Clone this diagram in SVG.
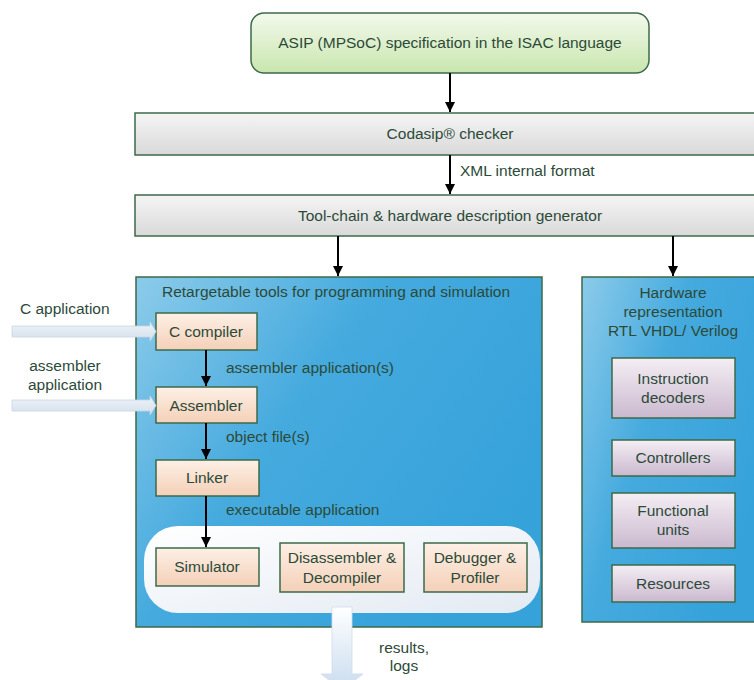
<svg xmlns="http://www.w3.org/2000/svg" width="754" height="680" viewBox="0 0 754 680">
  <defs>
    <linearGradient id="gSpec" x1="0" y1="0" x2="0" y2="1">
      <stop offset="0" stop-color="#f3f9ec"/>
      <stop offset="1" stop-color="#c9e6ae"/>
    </linearGradient>
    <linearGradient id="gBar" x1="0" y1="0" x2="0" y2="1">
      <stop offset="0" stop-color="#f5f5f5"/>
      <stop offset="1" stop-color="#d9d9d9"/>
    </linearGradient>
    <linearGradient id="gBlue" x1="0" y1="0" x2="1" y2="0.6">
      <stop offset="0" stop-color="#8ccbea"/>
      <stop offset="0.45" stop-color="#45aade"/>
      <stop offset="1" stop-color="#35a2da"/>
    </linearGradient>
    <linearGradient id="gTool" x1="0" y1="0" x2="0" y2="1">
      <stop offset="0" stop-color="#fdf0e6"/>
      <stop offset="1" stop-color="#f4d0b8"/>
    </linearGradient>
    <linearGradient id="gHw" x1="0" y1="0" x2="0" y2="1">
      <stop offset="0" stop-color="#f4eef4"/>
      <stop offset="1" stop-color="#cbb9cf"/>
    </linearGradient>
    <linearGradient id="gCloud" x1="0" y1="0" x2="1" y2="1">
      <stop offset="0" stop-color="#ffffff"/>
      <stop offset="1" stop-color="#e3eaf3"/>
    </linearGradient>
    <linearGradient id="gInput" x1="0" y1="0" x2="0" y2="1">
      <stop offset="0" stop-color="#eef3f8"/>
      <stop offset="1" stop-color="#d4e0ec"/>
    </linearGradient>
    <linearGradient id="gOut" x1="0" y1="0" x2="0" y2="1">
      <stop offset="0" stop-color="#ffffff"/>
      <stop offset="1" stop-color="#c9dcef"/>
    </linearGradient>
    <marker id="arrow" viewBox="0 0 10 10" refX="10" refY="5" markerWidth="5" markerHeight="5" orient="auto" markerUnits="strokeWidth">
      <path d="M0,0 L10,5 L0,10 z" fill="#000"/>
    </marker>
  </defs>
  <style>
    text { font-family: "Liberation Sans", Arial, sans-serif; font-size: 15.5px; fill: #2c4a38; }
    .c { text-anchor: middle; }
    .edge { stroke: #000; stroke-width: 2; fill: none; marker-end: url(#arrow); }
    .box { stroke: #3c6a4a; stroke-width: 1.5; }
  </style>

  <rect width="754" height="680" fill="#ffffff"/>

  <!-- specification -->
  <g id="spec">
    <rect class="box" x="251" y="13" width="398" height="60" rx="13" fill="url(#gSpec)"/>
    <text class="c" x="450" y="48">ASIP (MPSoC) specification in the ISAC language</text>
  </g>

  <!-- checker -->
  <g id="checker">
    <rect class="box" x="135" y="113" width="625" height="42" fill="url(#gBar)"/>
    <text class="c" x="450" y="139">Codasip® checker</text>
  </g>

  <!-- generator -->
  <g id="generator">
    <rect class="box" x="135" y="195" width="625" height="41" fill="url(#gBar)"/>
    <text class="c" x="450" y="221">Tool-chain &amp; hardware description generator</text>
  </g>

  <!-- software tools container -->
  <g id="sw-tools">
    <rect class="box" x="136" y="277" width="406" height="350" fill="url(#gBlue)"/>
    <text x="162" y="297">Retargetable tools for programming and simulation</text>
    <rect x="144" y="526" width="396" height="87" rx="34" fill="url(#gCloud)"/>
  </g>

  <!-- hardware container -->
  <g id="hw">
    <rect class="box" x="582" y="277" width="180" height="345" fill="url(#gBlue)"/>
    <text class="c" x="673" y="298">Hardware</text>
    <text class="c" x="673" y="317">representation</text>
    <text class="c" x="673" y="336">RTL VHDL/ Verilog</text>
  </g>

  <g id="decoders">
    <rect class="box" x="612" y="358" width="123" height="60" fill="url(#gHw)"/>
    <text class="c" x="673" y="384">Instruction</text>
    <text class="c" x="673" y="403">decoders</text>
  </g>
  <g id="controllers">
    <rect class="box" x="612" y="440" width="123" height="36" fill="url(#gHw)"/>
    <text class="c" x="673" y="463">Controllers</text>
  </g>
  <g id="functional">
    <rect class="box" x="612" y="493" width="123" height="55" fill="url(#gHw)"/>
    <text class="c" x="673" y="516">Functional</text>
    <text class="c" x="673" y="535">units</text>
  </g>
  <g id="resources">
    <rect class="box" x="612" y="565" width="123" height="37" fill="url(#gHw)"/>
    <text class="c" x="673" y="589">Resources</text>
  </g>

  <g id="ccompiler">
    <rect class="box" x="156" y="313" width="101" height="37" fill="url(#gTool)"/>
    <text class="c" x="206" y="337">C compiler</text>
  </g>
  <g id="assembler">
    <rect class="box" x="156" y="387" width="101" height="36" fill="url(#gTool)"/>
    <text class="c" x="206" y="411">Assembler</text>
  </g>
  <g id="linker">
    <rect class="box" x="156" y="460" width="103" height="36" fill="url(#gTool)"/>
    <text class="c" x="207" y="483">Linker</text>
  </g>
  <g id="simulator">
    <rect class="box" x="156" y="548" width="103" height="38" fill="url(#gTool)"/>
    <text class="c" x="207" y="572">Simulator</text>
  </g>
  <g id="disassembler">
    <rect class="box" x="280" y="543" width="124" height="49" fill="url(#gTool)"/>
    <text class="c" x="342" y="563">Disassembler &amp;</text>
    <text class="c" x="342" y="583">Decompiler</text>
  </g>
  <g id="debugger">
    <rect class="box" x="424" y="543" width="103" height="49" fill="url(#gTool)"/>
    <text class="c" x="475" y="563">Debugger &amp;</text>
    <text class="c" x="475" y="583">Profiler</text>
  </g>

  <!-- connectors -->
  <g id="connectors">
    <path class="edge" d="M450,73 V112"/>
    <path class="edge" d="M450,155 V194"/>
    <path class="edge" d="M338,236 V276"/>
    <path class="edge" d="M673,236 V276"/>
    <path class="edge" d="M206,350 V386"/>
    <path class="edge" d="M206,423 V459"/>
    <path class="edge" d="M206,496 V547"/>

    <!-- input block arrows -->
    <path d="M12,326 H150 V322 L156,331.5 L150,341 V337 H12 Z" fill="url(#gInput)" stroke="#c8d6e4" stroke-width="0.8"/>
    <path d="M12,400 H150 V396 L156,405.5 L150,415 V411 H12 Z" fill="url(#gInput)" stroke="#c8d6e4" stroke-width="0.8"/>

    <!-- output block arrow -->
    <path d="M332,607 H352 V674 H363 L342,690 L321,674 H332 Z" fill="url(#gOut)" stroke="#d0dcea" stroke-width="0.8"/>

    <text x="460" y="176">XML internal format</text>
    <text x="226" y="373">assembler application(s)</text>
    <text x="226" y="442">object file(s)</text>
    <text x="226" y="515">executable application</text>
    <text x="20" y="314">C application</text>
    <text class="c" x="65" y="371">assembler</text>
    <text class="c" x="65" y="390">application</text>
    <text class="c" x="404" y="653">results,</text>
    <text class="c" x="404" y="671">logs</text>
  </g>
</svg>
